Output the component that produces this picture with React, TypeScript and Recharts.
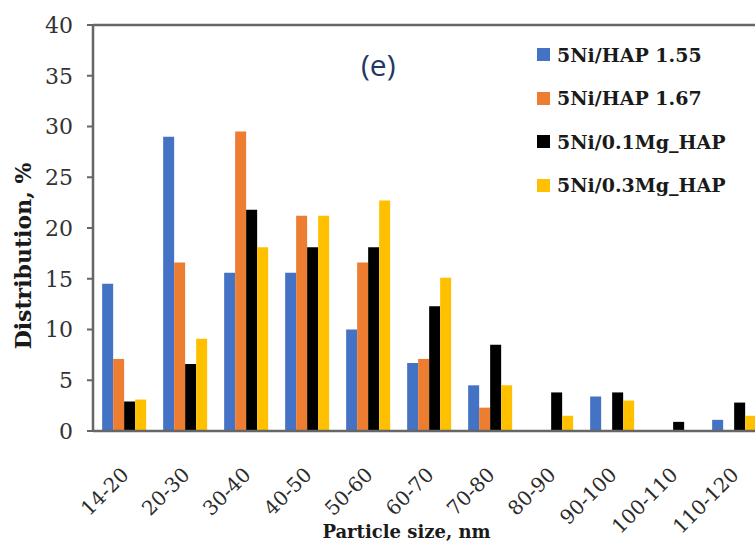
import { Bar, BarChart, ReferenceLine, XAxis, YAxis } from "recharts";

const categories = [
  "14-20", "20-30", "30-40", "40-50", "50-60", "60-70",
  "70-80", "80-90", "90-100", "100-110", "110-120",
];

const hap155 = [14.5, 29.0, 15.6, 15.6, 10.0, 6.7, 4.5, 0, 3.4, 0, 1.1];
const hap167 = [7.1, 16.6, 29.5, 21.2, 16.6, 7.1, 2.3, 0, 0, 0, 0];
const mg01 = [2.9, 6.6, 21.8, 18.1, 18.1, 12.3, 8.5, 3.8, 3.8, 0.9, 2.8];
const mg03 = [3.1, 9.1, 18.1, 21.2, 22.7, 15.1, 4.5, 1.5, 3.0, 0, 1.5];

const yTicks = [0, 5, 10, 15, 20, 25, 30, 35, 40];

const series = [
  { key: "hap155", name: "5Ni/HAP 1.55", color: "#4472C4", values: hap155 },
  { key: "hap167", name: "5Ni/HAP 1.67", color: "#ED7D31", values: hap167 },
  { key: "mg01", name: "5Ni/0.1Mg_HAP", color: "#000000", values: mg01 },
  { key: "mg03", name: "5Ni/0.3Mg_HAP", color: "#FFC000", values: mg03 },
];

const data = categories.map((cat, i) => {
  const row: Record<string, string | number> = { cat };
  series.forEach((s) => {
    row[s.key] = s.values[i];
  });
  return row;
});

const SERIF = "'DejaVu Serif', serif";
const AXIS = "#666666";

function XTick({ x, y, payload }: any) {
  const ax = x + 6.5;
  const ay = y + 37;
  return (
    <text
      x={ax}
      y={ay}
      transform={`rotate(-45, ${ax}, ${ay})`}
      textAnchor="end"
      fontFamily={SERIF}
      fontSize={20}
      fill="#2b2b2b"
    >
      {payload.value}
    </text>
  );
}

function Legendish() {
  return (
    <div style={{ position: "absolute", left: 537, top: 33 }}>
      {series.map((s) => (
        <div
          key={s.key}
          style={{ display: "flex", alignItems: "center", height: 43.5 }}
        >
          <span
            style={{ width: 13, height: 13, background: s.color, marginRight: 7 }}
          />
          <span
            style={{
              fontFamily: SERIF,
              fontWeight: "bold",
              fontSize: 19,
              color: "#1a1a1a",
              whiteSpace: "nowrap",
            }}
          >
            {s.name}
          </span>
        </div>
      ))}
    </div>
  );
}

export default function App() {
  return (
    <div
      style={{
        position: "absolute",
        left: 0,
        top: 0,
        width: 755,
        height: 543,
        overflow: "hidden",
        background: "#fff",
      }}
    >
      <BarChart
        width={780}
        height={543}
        data={data}
        margin={{ top: 25, right: 16, left: 0, bottom: 0 }}
        barCategoryGap="15%"
        barGap={0}
      >
        <XAxis
          dataKey="cat"
          height={112}
          interval={0}
          tickLine={false}
          axisLine={{ stroke: AXIS, strokeWidth: 2.5 }}
          tick={<XTick />}
          label={{
            value: "Particle size, nm",
            position: "insideBottom",
            offset: 5,
            dx: -22,
            fontFamily: SERIF,
            fontWeight: "bold",
            fontSize: 18,
            fill: "#1a1a1a",
          }}
        />
        <YAxis
          width={93}
          domain={[0, 40]}
          ticks={yTicks}
          interval={0}
          tickSize={6}
          tickMargin={14}
          tickLine={{ stroke: AXIS, strokeWidth: 2 }}
          axisLine={{ stroke: AXIS, strokeWidth: 2.5 }}
          tick={{ fontFamily: SERIF, fontSize: 22, fill: "#333" }}
          label={() => (
            <text
              x={23}
              y={256}
              transform="rotate(-90, 23, 256)"
              textAnchor="middle"
              dominantBaseline="central"
              fontFamily={SERIF}
              fontWeight="bold"
              fontSize={22}
              fill="#1a1a1a"
            >
              Distribution, %
            </text>
          )}
        />
        <ReferenceLine y={40} stroke={AXIS} strokeWidth={2.5} />
        {series.map((s) => (
          <Bar
            key={s.key}
            dataKey={s.key}
            name={s.name}
            fill={s.color}
            isAnimationActive={false}
          />
        ))}
      </BarChart>
      <div
        style={{
          position: "absolute",
          left: 361,
          top: 44,
          fontFamily: "'Open Sans', sans-serif",
          fontSize: 30,
          color: "#1F3864",
        }}
      >
        (e)
      </div>
      <Legendish />
    </div>
  );
}
